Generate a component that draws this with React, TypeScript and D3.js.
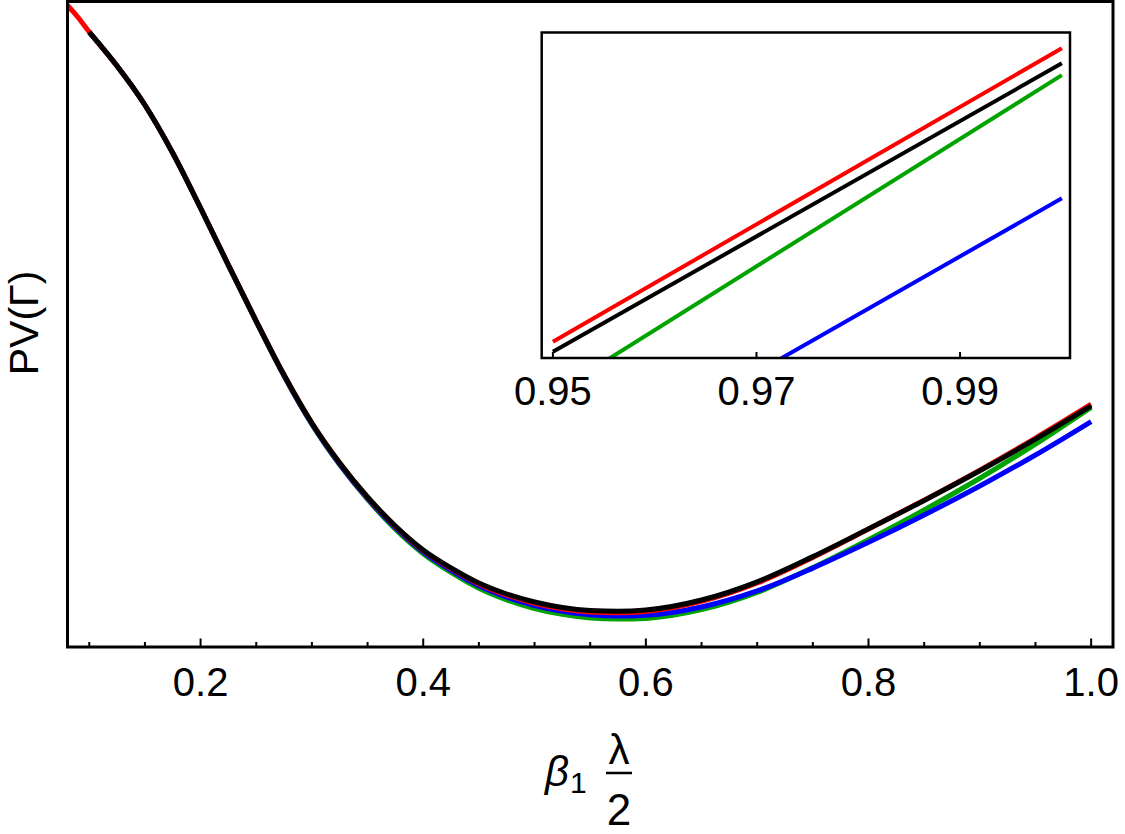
import React from "react";
import * as d3 from "d3";

// ---- data ----
const xGrid = [0.1, 0.125, 0.15, 0.175, 0.2, 0.225, 0.25, 0.275, 0.3, 0.325, 0.35, 0.375, 0.4, 0.425, 0.45, 0.475, 0.5, 0.525, 0.55, 0.575, 0.6, 0.65, 0.7, 0.75, 0.8, 0.85, 0.9, 0.95, 1.0];
const redLeadX = [0.08, 0.09];
const redLeadY = [99.5, 97.52];
const blackY = [95.27, 90.01, 83.97, 76.53, 68.01, 59.18, 50.5, 42.14, 34.7, 28.51, 23.24, 18.75, 15.03, 12.24, 9.91, 8.21, 6.97, 6.12, 5.65, 5.53, 5.73, 7.28, 10.1, 14.0, 18.3, 22.7, 27.3, 32.19, 37.34];
const redY = [95.27, 90.01, 83.97, 76.53, 68.01, 59.18, 50.5, 42.14, 34.7, 28.51, 23.19, 18.68, 14.94, 12.13, 9.77, 8.05, 6.78, 5.91, 5.42, 5.3, 5.5, 7.06, 9.91, 13.88, 18.27, 22.75, 27.41, 32.37, 37.61];
const blueY = [95.27, 90.01, 83.97, 76.52, 67.98, 59.13, 50.42, 42.03, 34.55, 28.32, 23.01, 18.48, 14.72, 11.87, 9.48, 7.72, 6.43, 5.52, 5.0, 4.8, 4.93, 6.2, 8.68, 12.22, 16.21, 20.45, 24.95, 29.75, 34.93];
const greenY = [95.27, 90.01, 83.96, 76.51, 67.96, 59.1, 50.39, 41.98, 34.5, 28.22, 22.86, 18.25, 14.46, 11.56, 9.11, 7.31, 5.97, 5.05, 4.5, 4.33, 4.43, 5.78, 8.45, 12.3, 16.63, 21.23, 26.14, 31.44, 37.13];

const mainXTicks = [0.2, 0.4, 0.6, 0.8, 1.0];
const mainXTickLabels = ["0.2", "0.4", "0.6", "0.8", "1.0"];
const mainMinorTicks = [0.1, 0.15, 0.25, 0.3, 0.35, 0.45, 0.5, 0.55, 0.65, 0.7, 0.75, 0.85, 0.9, 0.95];
const insetXTicks = [0.95, 0.97, 0.99];
const insetXTickLabels = ["0.95", "0.97", "0.99"];

type Pt = [number, number];
const zip = (xs: number[], ys: number[]): Pt[] => xs.map((x, i) => [x, ys[i]]);

const series = [
  { name: "green", color: "#00a300", pts: zip(xGrid, greenY) },
  { name: "blue", color: "#0000ff", pts: zip(xGrid, blueY) },
  { name: "red", color: "#ff0000", pts: zip([...redLeadX, ...xGrid], [...redLeadY, ...redY]) },
  { name: "black", color: "#000000", pts: zip(xGrid, blackY) },
];

const FONT = "'Liberation Sans', Arial, Helvetica, sans-serif";

export default function App() {
  const W = 1125, H = 834;
  const L = 67.5, R = 1113, T = 1.5, B = 647;
  const x = d3.scaleLinear().domain([0.08, 1.02]).range([67, 1113.4]);
  const y = d3.scaleLinear().domain([0, 100]).range([B, T]);

  const line = d3.line<Pt>().x(d => x(d[0])).y(d => y(d[1])).curve(d3.curveMonotoneX);

  // inset
  const iL = 541.7, iR = 1070, iT = 32.5, iB = 358;
  const ix = d3.scaleLinear().domain([0.9489, 1.0008]).range([iL, iR]);
  const iy = d3.scaleLinear().domain([32.08, 37.89]).range([iB, iT]);
  const iline = d3.line<Pt>().x(d => ix(d[0])).y(d => iy(d[1])).curve(d3.curveLinear);

  return (
    <svg width={W} height={H} style={{ position: "absolute", left: 0, top: 0, background: "#fff" }} fontFamily={FONT}>
      <defs>
        <clipPath id="mainclip"><rect x={L} y={T} width={R - L} height={B - T} /></clipPath>
        <clipPath id="insetclip"><rect x={iL} y={iT} width={iR - iL} height={iB - iT} /></clipPath>
      </defs>
      <rect x={0} y={0} width={W} height={H} fill="#fff" />
      <g clipPath="url(#mainclip)">
        {series.map(s => (
          <path key={s.name} d={line(s.pts) || ""} fill="none" stroke={s.color} strokeWidth={5} strokeLinejoin="round" />
        ))}
      </g>
      {/* main frame */}
      <rect x={L} y={T} width={R - L} height={B - T} fill="none" stroke="#000" strokeWidth={3} />
      {mainMinorTicks.map(t => (
        <line key={"m" + t} x1={x(t)} x2={x(t)} y1={B} y2={B - 5} stroke="#000" strokeWidth={2} />
      ))}
      {mainXTicks.map((t, i) => (
        <g key={"M" + t}>
          <line x1={x(t)} x2={x(t)} y1={B} y2={B - 8.5} stroke="#000" strokeWidth={2} />
          <text x={x(t)} y={696} fontSize={40} textAnchor="middle" fill="#000">{mainXTickLabels[i]}</text>
        </g>
      ))}
      {/* y label */}
      <text transform="translate(38,323) rotate(-90)" fontSize={41} textAnchor="middle" fill="#000">PV(Γ)</text>
      {/* x label */}
      <text x={545} y={786} fontSize={42} fontStyle="italic" fill="#000">β</text>
      <text x={570} y={793} fontSize={30} fill="#000">1</text>
      <text x={619} y={764} fontSize={42} textAnchor="middle" fill="#000">λ</text>
      <line x1={606} x2={632} y1={773} y2={773} stroke="#000" strokeWidth={2.5} />
      <text x={619} y={825} fontSize={44} textAnchor="middle" fill="#000">2</text>

      {/* inset */}
      <rect x={iL} y={iT} width={iR - iL} height={iB - iT} fill="#fff" stroke="none" />
      <g clipPath="url(#insetclip)">
        {series.map(s => (
          <path key={"i" + s.name} d={iline(s.pts.filter(p => p[0] >= 0.95)) || ""} fill="none" stroke={s.color} strokeWidth={4} />
        ))}
      </g>
      <rect x={iL} y={iT} width={iR - iL} height={iB - iT} fill="none" stroke="#000" strokeWidth={2.5} />
      {insetXTicks.map((t, i) => (
        <g key={"I" + t}>
          <line x1={ix(t)} x2={ix(t)} y1={iB} y2={iB - 6} stroke="#000" strokeWidth={2} />
          <text x={ix(t)} y={405} fontSize={40} textAnchor="middle" fill="#000">{insetXTickLabels[i]}</text>
        </g>
      ))}
    </svg>
  );
}
